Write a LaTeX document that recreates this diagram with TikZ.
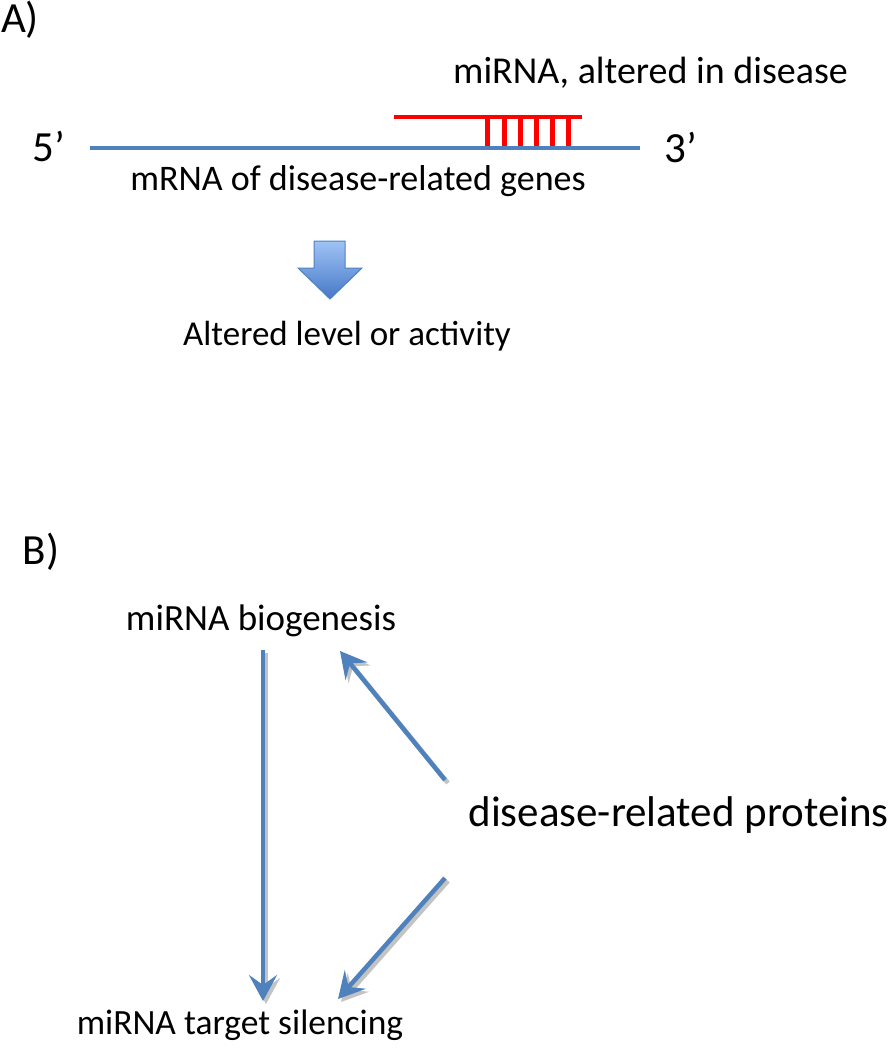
\documentclass[tikz,border=0pt]{standalone}
\usepackage{fontspec}
\setmainfont{Carlito}
\usetikzlibrary{arrows.meta}
\definecolor{bl}{RGB}{79,129,189}
\definecolor{blL}{RGB}{160,195,245}
\definecolor{blD}{RGB}{70,120,200}
\definecolor{shad}{RGB}{195,195,195}
\begin{document}
\begin{tikzpicture}[x=1pt,y=-1pt,
  lbl/.style={inner sep=0pt,font=\fontsize{36}{40}\selectfont},
  big/.style={inner sep=0pt,font=\fontsize{43}{48}\selectfont},
  arr/.style={draw=bl,line width=4.5pt,-{Stealth[length=26pt,width=28pt,inset=10pt]}},
  arrsh/.style={draw=shad,line width=4.5pt,-{Stealth[length=26pt,width=28pt,inset=10pt]}}]
\useasboundingbox (0,0) rectangle (891,1050);
% Panel A
\node[big] (A) at (20,20) {A)};
\node[big] (p5) at (49,146) {5’};
\node[big] (p3) at (681,147) {3’};
\coordinate (m1) at (90,148);
\coordinate (m2) at (640,148);
\draw[bl,line width=4.5pt] (m1) -- (m2);
\coordinate (r1) at (394,117);
\coordinate (r2) at (582,117);
\draw[red,line width=4.5pt] (r1) -- (r2);
\foreach \x in {487,504,520,536,552,568}{
  \draw[red,line width=5pt] (\x,117) -- (\x,146);
}
\node[lbl,anchor=east,font=\fontsize{38}{42}\selectfont] (mirna) at (848,73) {miRNA, altered in disease};
\node[lbl] (mrna) at (358,181) {mRNA of disease-related genes};
% block arrow
\shade[top color=blL,bottom color=blD,draw=bl,line width=1pt]
  (314,241) -- (345,241) -- (345,268) -- (362,268) -- (330,299) -- (298,268) -- (314,268) -- cycle;
\node[lbl,font=\fontsize{35}{40}\selectfont] (alt) at (347,336) {Altered level or activity};
\node[big] (B) at (41,552) {B)};
\node[lbl,font=\fontsize{37}{42}\selectfont] (bio) at (261,621) {miRNA biogenesis};
\node[lbl,anchor=east,font=\fontsize{43}{48}\selectfont] (prot) at (889,815) {disease-related proteins};
\node[lbl,font=\fontsize{35.5}{40}\selectfont] (sil) at (240,1025) {miRNA target silencing};
\coordinate (v1) at (263,650);
\coordinate (v2) at (263,1001);
\coordinate (a1) at (445,780);
\coordinate (a2) at (340,651);
\coordinate (b1) at (445,878);
\coordinate (b2) at (338,999);
\draw[arrsh] ([shift={(3,3)}]v1) -- ([shift={(3,3)}]v2);
\draw[arrsh] ([shift={(3,3)}]a1) -- ([shift={(3,3)}]a2);
\draw[arrsh] ([shift={(3,3)}]b1) -- ([shift={(3,3)}]b2);
\draw[arr] (v1) -- (v2);
\draw[arr] (a1) -- (a2);
\draw[arr] (b1) -- (b2);
\end{tikzpicture}
\end{document}
